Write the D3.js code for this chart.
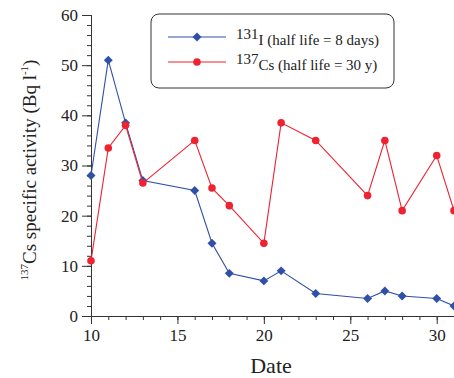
<!DOCTYPE html>
<html>
<head>
<meta charset="utf-8">
<script src="https://cdn.jsdelivr.net/npm/d3@7"></script>
<style>
  body { margin: 0; background: #fff; }
  text { font-family: "Liberation Serif", "Times New Roman", serif; fill: #222; }
</style>
</head>
<body>
<svg id="chart" width="454" height="378"></svg>
<script>
// Data
const dates = [10, 11, 12, 13, 16, 17, 18, 20, 21, 23, 26, 27, 28, 30, 31]
const iodine = [28, 51, 38.5, 27, 25, 14.5, 8.5, 7, 9, 4.5, 3.5, 5, 4, 3.5, 2]
const cesium = [11, 33.5, 38, 26.5, 35, 25.5, 22, 14.5, 38.5, 35, 24, 35, 21, 32, 21]
const xTicks = [10, 15, 20, 25, 30]
const yTicks = [0, 10, 20, 30, 40, 50, 60]

const serif = '"Liberation Serif", "Times New Roman", serif'
const svg = d3.select("#chart")
const x = d3.scaleLinear().domain([10, 31]).range([91, 454])
const y = d3.scaleLinear().domain([0, 60]).range([316, 15])

// axes with minor ticks
svg.append("g")
    .attr("transform", `translate(0,${y(0)})`)
    .call(d3.axisBottom(x).tickValues(d3.range(10, 32, 1)).tickSize(4).tickFormat(""))
svg.append("g")
    .attr("transform", `translate(0,${y(0)})`)
    .call(d3.axisBottom(x).tickValues(xTicks).tickSize(8).tickPadding(5).tickFormat(d3.format("d")))
    .attr("font-family", serif).attr("font-size", 17)
svg.append("g")
    .attr("transform", `translate(${x(10)},0)`)
    .call(d3.axisLeft(y).tickValues(d3.range(0, 61, 2)).tickSize(4).tickFormat(""))
svg.append("g")
    .attr("transform", `translate(${x(10)},0)`)
    .call(d3.axisLeft(y).tickValues(yTicks).tickSize(9).tickPadding(4))
    .attr("font-family", serif).attr("font-size", 17)
svg.selectAll(".domain, .tick line").attr("stroke", "#333")
svg.selectAll(".tick text").attr("fill", "#222")

// rotated square = diamond with equal width and height
const diamond = {
    draw(ctx, size) {
        const r = Math.sqrt(size / 2)
        ctx.moveTo(0, -r); ctx.lineTo(r, 0); ctx.lineTo(0, r); ctx.lineTo(-r, 0); ctx.closePath()
    }
}
const series = [
    { name: "I", data: iodine, color: "#3050a8", shape: diamond, size: 40 },
    { name: "Cs", data: cesium, color: "#ee2230", shape: d3.symbolCircle, size: 45 }
]
const line = d3.line().x((d, i) => x(dates[i])).y(d => y(d))

series.forEach(s => {
    svg.append("path")
        .attr("d", line(s.data))
        .attr("fill", "none")
        .attr("stroke", s.color)
        .attr("stroke-width", 1.1)
    svg.selectAll(null)
        .data(s.data)
        .enter()
        .append("path")
        .attr("d", d3.symbol().type(s.shape).size(s.size))
        .attr("transform", (d, i) => `translate(${x(dates[i])},${y(d)})`)
        .attr("fill", s.color)
})

// legend
svg.append("rect")
    .attr("x", 151).attr("y", 14).attr("width", 243).attr("height", 74)
    .attr("rx", 8).attr("fill", "#fff").attr("stroke", "#333").attr("stroke-width", 1)
const legendRows = [
    { s: series[0], sup: "131", txt: "I (half life = 8 days)", ly: 37 },
    { s: series[1], sup: "137", txt: "Cs (half life = 30 y)", ly: 62 }
]
legendRows.forEach(r => {
    svg.append("line").attr("x1", 168).attr("x2", 226).attr("y1", r.ly).attr("y2", r.ly)
        .attr("stroke", r.s.color).attr("stroke-width", 1.1)
    svg.append("path").attr("d", d3.symbol().type(r.s.shape).size(r.s.size)())
        .attr("transform", `translate(197,${r.ly})`).attr("fill", r.s.color)
    const t = svg.append("text").attr("x", 236).attr("y", r.ly + 8).style("font-size", "15px")
    t.append("tspan").text(r.sup).attr("dy", -6)
    t.append("tspan").text(r.txt).attr("dy", 6)
})

// axis titles
svg.append("text")
    .attr("x", 271).attr("y", 373).attr("text-anchor", "middle")
    .style("font-size", "22px").text("Date")
const yl = svg.append("text")
    .attr("transform", "translate(36,170) rotate(-90)")
    .attr("text-anchor", "middle").style("font-size", "19px")
yl.append("tspan").text("137").style("font-size", "11px").attr("dy", -8)
yl.append("tspan").text("Cs specific activity (Bq l").attr("dy", 8)
yl.append("tspan").text("-1").style("font-size", "11px").attr("dy", -8)
yl.append("tspan").text(")").attr("dy", 8)
</script>
</body>
</html>
